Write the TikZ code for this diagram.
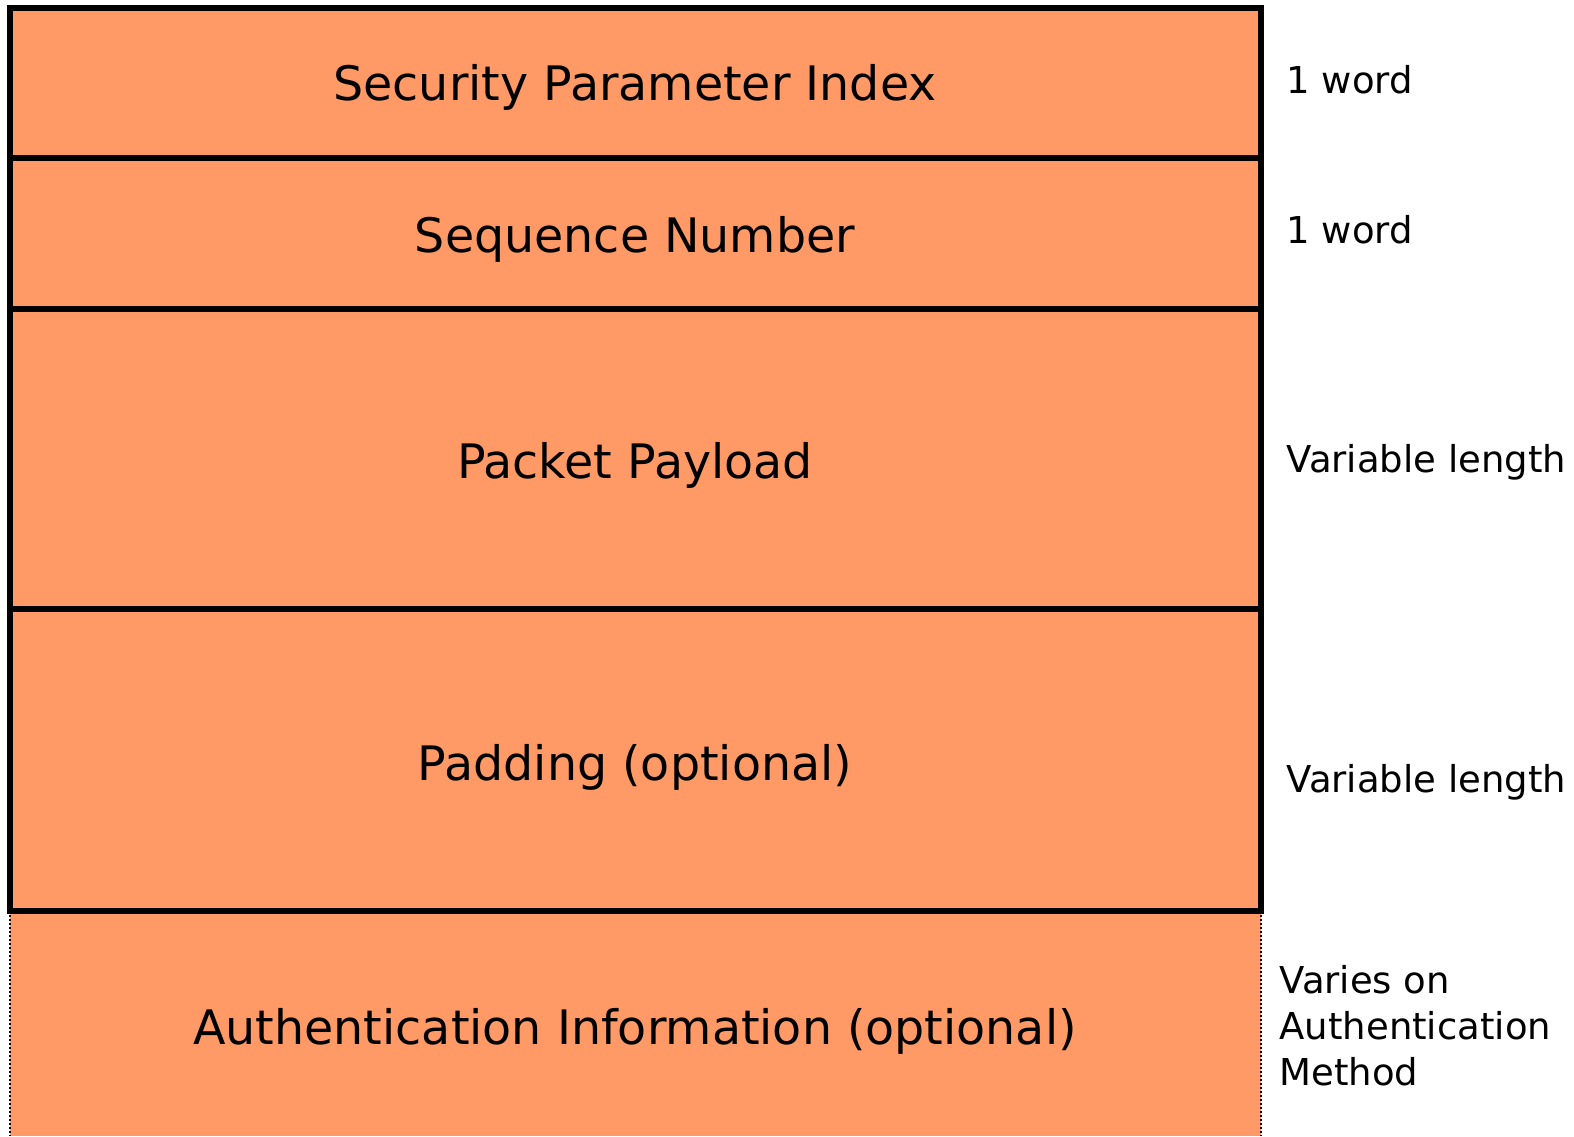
\documentclass[tikz,border=0pt]{standalone}
\usepackage{fontspec}
\setmainfont{DejaVu Sans}
\definecolor{pkt}{RGB}{255,153,102}
\begin{document}
\begin{tikzpicture}[x=1pt,y=-1pt,
  field/.style={font=\fontsize{47.5}{54}\selectfont, anchor=center},
  side/.style={font=\fontsize{37}{46}\selectfont, anchor=west, align=left},
  thick border/.style={line width=6.5pt, line join=miter},
  thin dotted/.style={line width=2pt, dash pattern=on 2pt off 2pt}]
\useasboundingbox (0,0) rectangle (1574,1136);
% fills
\fill[pkt] (10,8) rectangle (1261,1136);
% dotted borders of the auth box
\draw[thin dotted] (10,911) -- (10,1136);
\draw[thin dotted] (1261,911) -- (1261,1136);
% thick frame and dividers
\draw[thick border] (10,8) rectangle (1261,911);
\draw[thick border] (10,158) -- (1261,158);
\draw[thick border] (10,309) -- (1261,309);
\draw[thick border] (10,609) -- (1261,609);
% field texts
\node[field] (spi) at (635,87) {Security Parameter Index};
\node[field] (seq) at (635,239) {Sequence Number};
\node[field] (pay) at (635,465) {Packet Payload};
\node[field] (pad) at (635,767) {Padding (optional)};
\node[field] (auth) at (635,1031) {Authentication Information (optional)};
% side labels
\node[side] (l1) at (1283,80) {1 word};
\node[side] (l2) at (1283,230) {1 word};
\node[side] (l3) at (1283,462) {Variable length};
\node[side] (l4) at (1283,782) {Variable length};
\node[side] (l5) at (1276,1026) {Varies on\\Authentication\\Method};
\end{tikzpicture}
\end{document}
